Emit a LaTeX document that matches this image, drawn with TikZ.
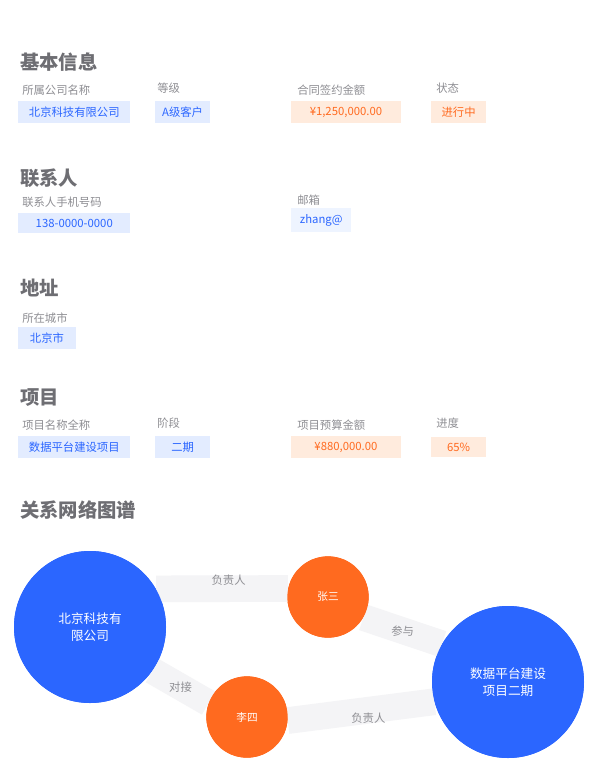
\documentclass[tikz,border=0pt]{standalone}
\usepackage{fontspec}
\setmainfont{Noto Sans CJK SC}
\definecolor{cblue}{HTML}{2B66FF}
\definecolor{corange}{HTML}{FF6A1F}
\definecolor{bfill}{HTML}{E3ECFF}
\definecolor{ofill}{HTML}{FFEBDD}
\definecolor{hgray}{HTML}{6E6E73}
\definecolor{lgray}{HTML}{8E8E93}
\definecolor{bandc}{HTML}{F4F4F6}
\begin{document}
\begin{tikzpicture}[x=0.75pt,y=-0.75pt,
  heading/.style={anchor=west,text=hgray,font=\fontsize{14.5}{16}\selectfont\bfseries,inner sep=0pt},
  lbl/.style={anchor=west,text=lgray,font=\fontsize{8.5}{10}\selectfont,inner sep=0pt},
  bval/.style={anchor=west,fill=bfill,text=cblue,font=\fontsize{8.5}{10}\selectfont,inner xsep=4pt,inner ysep=4.5pt},
  oval/.style={anchor=west,fill=ofill,text=corange,font=\fontsize{8.5}{10}\selectfont,inner xsep=4pt,inner ysep=4.5pt},
  bigc/.style={circle,fill=cblue,text=white,minimum size=114pt,inner sep=0pt,align=center,font=\fontsize{9.5}{13}\selectfont},
  smallc/.style={circle,fill=corange,text=white,minimum size=61pt,inner sep=0pt,font=\fontsize{8}{9}\selectfont},
  band/.style={line width=20pt,draw=bandc},
  elbl/.style={text=lgray,font=\fontsize{8.5}{10}\selectfont,inner sep=1pt}]
\useasboundingbox (0,0) rectangle (602,779);
\fill[white] (0,0) rectangle (602,779);
% section 1
\node[heading] (h1) at (20,62) {基本信息};
\node[lbl] (l11) at (22,90) {所属公司名称};
\node[bval,minimum width=84pt] (v11) at (18,112) {北京科技有限公司};
\node[lbl] (l12) at (157,88) {等级};
\node[bval,minimum width=41pt] (v12) at (155,112) {A级客户};
\node[lbl] (l13) at (297,90) {合同签约金额};
\node[oval,minimum width=82pt] (v13) at (291,112) {¥1,250,000.00};
\node[lbl] (l14) at (436,88) {状态};
\node[oval,minimum width=41pt] (v14) at (431,112) {进行中};
% section 2
\node[heading] (h2) at (20,178) {联系人};
\node[lbl] (l21) at (22,202) {联系人手机号码};
\node[bval,minimum width=84pt] (v21) at (18,223) {138-0000-0000};
\node[lbl] (l22) at (297,200) {邮箱};
\node[bval,minimum width=45pt,fill=bfill!60] (v22) at (291,220) {zhang@};
% section 3
\node[heading] (h3) at (20,288) {地址};
\node[lbl] (l31) at (22,318) {所在城市};
\node[bval,minimum width=43pt] (v31) at (18,338) {北京市};
% section 4
\node[heading] (h4) at (20,398) {项目};
\node[lbl] (l41) at (22,425) {项目名称全称};
\node[bval,minimum width=84pt] (v41) at (18,447) {数据平台建设项目};
\node[lbl] (l42) at (157,423) {阶段};
\node[bval,minimum width=41pt] (v42) at (155,447) {二期};
\node[lbl] (l43) at (297,425) {项目预算金额};
\node[oval,minimum width=82pt] (v43) at (291,447) {¥880,000.00};
\node[lbl] (l44) at (436,423) {进度};
\node[oval,minimum width=41pt] (v44) at (431,447) {65\%};
% section 5
\node[heading] (h5) at (20,510) {关系网络图谱};
% graph nodes (coordinates only for placement)
\node[bigc] (b1) at (90,627) {北京科技有\\限公司};
\node[smallc] (o1) at (328,597) {张三};
\node[smallc] (o2) at (247,717) {李四};
\node[bigc] (b2) at (508,682) {数据平台建设\\项目二期};
% bands (edges)
\draw[band] (b1.30) -- (o1.168) node[elbl,pos=0.55,yshift=6pt] (e1) {负责人};
\draw[band] (o1.-30) -- (b2.150) node[elbl,pos=0.5] (e2) {参与};
\draw[band] (b1.-35) -- (o2.160) node[elbl,pos=0.5] (e3) {对接};
\draw[band] (o2.-5) -- (b2.195) node[elbl,pos=0.55,yshift=-6pt] (e4) {负责人};
% nodes drawn again above the bands
\node[bigc] (b1f) at (b1) {北京科技有\\限公司};
\node[smallc] (o1f) at (o1) {张三};
\node[smallc] (o2f) at (o2) {李四};
\node[bigc] (b2f) at (b2) {数据平台建设\\项目二期};
\end{tikzpicture}
\end{document}
